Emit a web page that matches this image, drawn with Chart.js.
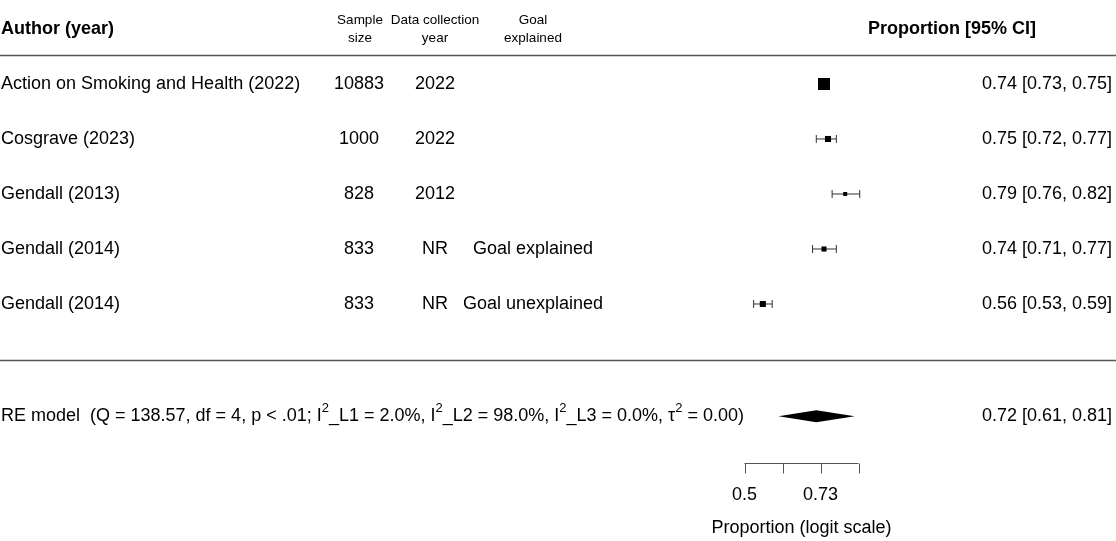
<!DOCTYPE html>
<html>
<head>
<meta charset="utf-8">
<script src="https://cdn.jsdelivr.net/npm/chart.js@4.4.1/dist/chart.umd.min.js"></script>
<style>
  html, body { margin: 0; padding: 0; background: #fff; }
  #forest { display: block; }
</style>
</head>
<body>
<canvas id="forest" width="1116" height="541"></canvas>
<script>
// Study level data
const authors = [
    'Action on Smoking and Health (2022)',
    'Cosgrave (2023)',
    'Gendall (2013)',
    'Gendall (2014)',
    'Gendall (2014)'
];
const sampleSizes = ['10883', '1000', '828', '833', '833'];
const collectionYears = ['2022', '2022', '2012', 'NR', 'NR'];
const goalExplained = ['', '', '', 'Goal explained', 'Goal unexplained'];
const proportions = [0.74, 0.75, 0.79, 0.74, 0.56];
const ciLower = [0.73, 0.72, 0.76, 0.71, 0.53];
const ciUpper = [0.75, 0.77, 0.82, 0.77, 0.59];
// weights (%)
const weights = [20.95, 19.95, 19.60, 19.78, 19.95];

// Pooled (RE model) result
const pooledEstimate = [0.72, 0.61, 0.81]; // est, lower, upper
const heterogeneity = ['138.57', '4', '< .01', '2.0%', '98.0%', '0.0%', '0.00']; // Q, df, p, I2_L1, I2_L2, I2_L3, tau2

// Axis (logit scale) ticks and labels
const tickLogits = [0, 0.5, 1, 1.5];
const tickLabels = ['0.5', '', '0.73', ''];

const logit = p => Math.log(p / (1 - p));
const fmt = v => v.toFixed(2);

// Row layout (row units, top to bottom)
const headerRow = 0;
const headerRuleRow = 0.47;
const studyRows = authors.map((a, i) => i + 1);
const bottomRuleRow = 6.02;
const pooledRow = 7.04;
const axisRow = 7.89;

const FONT = '"Liberation Sans", Arial, Helvetica, sans-serif';

// square size from weights (metafor style: 0.5 to 1.5 cex)
const wMin = Math.min(...weights), wMax = Math.max(...weights);
const squareRadius = weights.map(w => {
    const side = 4 + 8 * (w - wMin) / (wMax - wMin);
    return side / (2 * Math.SQRT1_2);
});

const datasets = [];

// Point estimates
datasets.push({
    label: 'estimates',
    data: proportions.map((p, i) => ({ x: logit(p), y: studyRows[i] })),
    showLine: false,
    pointStyle: 'rect',
    pointRadius: squareRadius,
    pointHoverRadius: squareRadius,
    backgroundColor: '#000',
    borderColor: '#000',
    pointBorderWidth: 0
});

// Confidence intervals with caps
proportions.forEach((p, i) => {
    datasets.push({
        label: 'ci' + i,
        data: [
            { x: logit(ciLower[i]), y: studyRows[i] },
            { x: logit(ciUpper[i]), y: studyRows[i] }
        ],
        showLine: true,
        borderColor: '#333',
        borderWidth: 1,
        pointStyle: 'line',
        rotation: 90,
        pointRadius: 4,
        pointBorderColor: '#333',
        pointBorderWidth: 1
    });
});

function drawText(ctx, str, x, y, align, font) {
    ctx.font = font;
    ctx.textAlign = align;
    ctx.textBaseline = 'middle';
    ctx.fillStyle = '#000';
    ctx.fillText(str, x, y);
}

function drawRich(ctx, parts, x, y) {
    ctx.textBaseline = 'middle';
    ctx.textAlign = 'left';
    ctx.fillStyle = '#000';
    parts.forEach(([s, sup]) => {
        ctx.font = sup ? '13px ' + FONT : '18px ' + FONT;
        ctx.fillText(s, x, sup ? y - 8 : y);
        x += ctx.measureText(s).width;
    });
}

const forestText = {
    id: 'forestText',
    afterDraw(chart) {
        const ctx = chart.ctx;
        const xs = chart.scales.x, ys = chart.scales.y;
        const W = chart.width;
        const yRow = r => ys.getPixelForValue(r);
        ctx.save();

        // headers
        const hy = yRow(headerRow);
        drawText(ctx, 'Author (year)', 1, hy, 'left', 'bold 18px ' + FONT);
        drawText(ctx, 'Proportion [95% CI]', 952, hy, 'center', 'bold 18px ' + FONT);
        const small = '13.5px ' + FONT;
        drawText(ctx, 'Sample', 360, hy - 9, 'center', small);
        drawText(ctx, 'size', 360, hy + 9, 'center', small);
        drawText(ctx, 'Data collection', 435, hy - 9, 'center', small);
        drawText(ctx, 'year', 435, hy + 9, 'center', small);
        drawText(ctx, 'Goal', 533, hy - 9, 'center', small);
        drawText(ctx, 'explained', 533, hy + 9, 'center', small);

        // rules
        ctx.strokeStyle = '#555';
        ctx.lineWidth = 1.5;
        [headerRuleRow, bottomRuleRow].forEach(r => {
            const y = Math.round(yRow(r)) + 0.5;
            ctx.beginPath();
            ctx.moveTo(0, y);
            ctx.lineTo(W, y);
            ctx.stroke();
        });

        // study rows
        const f = '18px ' + FONT;
        authors.forEach((a, i) => {
            const y = yRow(studyRows[i]);
            drawText(ctx, a, 1, y, 'left', f);
            drawText(ctx, sampleSizes[i], 359, y, 'center', f);
            drawText(ctx, collectionYears[i], 435, y, 'center', f);
            if (goalExplained[i]) drawText(ctx, goalExplained[i], 533, y, 'center', f);
            drawText(ctx, fmt(proportions[i]) + ' [' + fmt(ciLower[i]) + ', ' + fmt(ciUpper[i]) + ']', 1112, y, 'right', f);
        });

        // pooled row
        const py = yRow(pooledRow);
        const [Q, df, p, i1, i2, i3, t2] = heterogeneity;
        drawRich(ctx, [
            ['RE model  (Q = ' + Q + ', df = ' + df + ', p ' + p + '; I'], ['2', true],
            ['_L1 = ' + i1 + ', I'], ['2', true],
            ['_L2 = ' + i2 + ', I'], ['2', true],
            ['_L3 = ' + i3 + ', \u03c4'], ['2', true],
            [' = ' + t2 + ')']
        ], 1, py);
        drawText(ctx, fmt(pooledEstimate[0]) + ' [' + fmt(pooledEstimate[1]) + ', ' + fmt(pooledEstimate[2]) + ']', 1112, py, 'right', f);

        // diamond
        const half = 6;
        ctx.beginPath();
        ctx.moveTo(xs.getPixelForValue(logit(pooledEstimate[1])), py);
        ctx.lineTo(xs.getPixelForValue(logit(pooledEstimate[0])), py - half);
        ctx.lineTo(xs.getPixelForValue(logit(pooledEstimate[2])), py);
        ctx.lineTo(xs.getPixelForValue(logit(pooledEstimate[0])), py + half);
        ctx.closePath();
        ctx.fillStyle = '#000';
        ctx.fill();

        // x axis
        const ay = Math.round(yRow(axisRow)) + 0.5;
        const x0 = xs.getPixelForValue(tickLogits[0]);
        const x1 = xs.getPixelForValue(tickLogits[tickLogits.length - 1]);
        ctx.strokeStyle = '#555';
        ctx.lineWidth = 1;
        ctx.beginPath();
        ctx.moveTo(x0, ay);
        ctx.lineTo(x1, ay);
        tickLogits.forEach(t => {
            const tx = Math.round(xs.getPixelForValue(t)) + 0.5;
            ctx.moveTo(tx, ay);
            ctx.lineTo(tx, ay + 10);
        });
        ctx.stroke();
        tickLogits.forEach((t, i) => {
            if (tickLabels[i]) drawText(ctx, tickLabels[i], xs.getPixelForValue(t), ay + 32, 'center', f);
        });
        drawText(ctx, 'Proportion (logit scale)', (x0 + x1) / 2, ay + 65, 'center', f);

        ctx.restore();
    }
};

new Chart(document.getElementById('forest'), {
    type: 'scatter',
    data: { datasets: datasets },
    options: {
        responsive: false,
        animation: false,
        layout: { padding: 0, autoPadding: false },
        plugins: {
            legend: { display: false },
            tooltip: { enabled: false }
        },
        scales: {
            x: { type: 'linear', display: false, min: -9.796, max: 4.888 },
            y: { type: 'linear', display: false, reverse: true, min: -0.527, max: 9.309 }
        }
    },
    plugins: [forestText]
});
</script>
</body>
</html>
